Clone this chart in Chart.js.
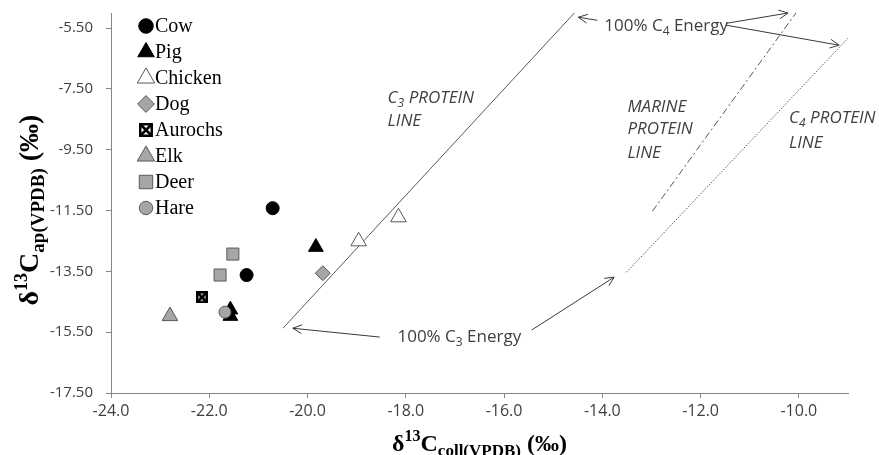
<!DOCTYPE html>
<html lang="en">
<head>
<meta charset="UTF-8">
<title>Collagen vs apatite carbon isotopes</title>
<script src="https://cdn.jsdelivr.net/npm/chart.js@4.4.0/dist/chart.umd.min.js"></script>
<style>
  html, body { margin: 0; padding: 0; background: #fff; }
  #wrap { width: 879px; height: 455px; }
</style>
</head>
<body>
<div id="wrap"><canvas id="isoChart" width="879" height="455"></canvas></div>
<script>
// tick labels
const xTicks = [-24, -22, -20, -18, -16, -14, -12, -10];
const yTicks = [-17.5, -15.5, -13.5, -11.5, -9.5, -7.5, -5.5];

// samples: [d13C collagen, d13C apatite]
const cow = [[-20.71, -11.42], [-21.24, -13.62]];
const pig = [[-19.83, -12.70], [-21.57, -14.76], [-21.57, -14.97]];
const chicken = [[-18.96, -12.51], [-18.15, -11.72]];
const dog = [[-19.69, -13.56]];
const aurochs = [[-22.15, -14.35]];
const elk = [[-22.80, -14.97]];
const deer = [[-21.52, -12.93], [-21.78, -13.62]];
const hare = [[-21.68, -14.84]];

// reference lines, end points
const c3Line = [[-20.50, -15.37], [-14.57, -5.0]];
const marineLine = [[-12.98, -11.52], [-10.06, -5.0]];
const c4Line = [[-13.51, -13.53], [-9.0, -5.83]];

const GREY = '#a6a6a6';
const EDGE = '#595959';
const TXT = '#404040';

function pts(arr) {
    return arr.map(p => ({ x: p[0], y: p[1] }));
}

// box with a cross, for aurochs
function makeAurochs(size) {
    const c = document.createElement('canvas');
    c.width = size; c.height = size;
    const g = c.getContext('2d');
    g.fillStyle = '#fff';
    g.fillRect(0, 0, size, size);
    g.strokeStyle = '#000';
    g.lineWidth = 2.6;
    g.strokeRect(1.2, 1.2, size - 2.4, size - 2.4);
    g.beginPath();
    g.moveTo(1, 1); g.lineTo(size - 1, size - 1);
    g.moveTo(size - 1, 1); g.lineTo(1, size - 1);
    g.stroke();
    return c;
}
const aurochsMark = makeAurochs(12);
const aurochsLegend = makeAurochs(14);

const animals = [
    { label: 'Cow', data: cow, style: 'circle', r: 6.5, fill: '#000', line: '#000' },
    { label: 'Pig', data: pig, style: 'triangle', r: 8.5, fill: '#000', line: '#000' },
    { label: 'Chicken', data: chicken, style: 'triangle', r: 9, fill: '#fff', line: EDGE },
    { label: 'Dog', data: dog, style: 'rectRot', r: 7.5, fill: GREY, line: EDGE },
    { label: 'Aurochs', data: aurochs, style: aurochsMark, legendStyle: aurochsLegend, r: 6, fill: '#000', line: '#000' },
    { label: 'Elk', data: elk, style: 'triangle', r: 9, fill: GREY, line: EDGE },
    { label: 'Deer', data: deer, style: 'rect', r: 8.5, fill: GREY, line: EDGE },
    { label: 'Hare', data: hare, style: 'circle', r: 6, fill: GREY, line: EDGE }
];

const datasets = animals.map((a, i) => ({
    label: a.label,
    data: pts(a.data),
    pointStyle: a.style,
    pointRadius: a.r,
    backgroundColor: a.fill,
    borderColor: a.line,
    borderWidth: 1,
    order: animals.length - i
}));

function refLine(label, data, dash) {
    return {
        label: label,
        data: pts(data),
        showLine: true,
        borderColor: EDGE,
        borderWidth: 1,
        borderDash: dash,
        pointRadius: 0,
        order: 20
    };
}
datasets.push(refLine('C3 protein', c3Line, []));
datasets.push(refLine('Marine protein', marineLine, [7, 3, 2, 3]));
datasets.push(refLine('C4 protein', c4Line, [1.5, 1.5]));

// text with sub/superscripts; parts = [text, font, dy]
function drawRich(ctx, parts, x, y, align) {
    let total = 0;
    parts.forEach(p => { ctx.font = p[1]; total += ctx.measureText(p[0]).width; });
    let cx = align === 'center' ? x - total / 2 : x;
    parts.forEach(p => {
        ctx.font = p[1];
        ctx.fillText(p[0], cx, y + (p[2] || 0));
        cx += ctx.measureText(p[0]).width;
    });
}

function arrow(ctx, x1, y1, x2, y2) {
    const ang = Math.atan2(y2 - y1, x2 - x1);
    const len = 10, spread = 0.45;
    ctx.beginPath();
    ctx.moveTo(x1, y1);
    ctx.lineTo(x2, y2);
    ctx.moveTo(x2 - len * Math.cos(ang - spread), y2 - len * Math.sin(ang - spread));
    ctx.lineTo(x2, y2);
    ctx.lineTo(x2 - len * Math.cos(ang + spread), y2 - len * Math.sin(ang + spread));
    ctx.stroke();
}

const SANS = "'Open Sans', sans-serif";
const SERIF = "'Liberation Serif', 'Times New Roman', serif";
const it17 = 'italic 17px ' + SANS;
const it12 = 'italic 12px ' + SANS;
const n17 = '17px ' + SANS;
const n12 = '12px ' + SANS;

// annotation texts, anchored in data units (left edge, cap middle)
const notes = [
    { x: -18.37, y: -7.77, parts: [['C', it17], ['3', it12, 4], [' PROTEIN', it17]] },
    { x: -18.37, y: -8.53, parts: [['LINE', it17]] },
    { x: -13.49, y: -8.07, parts: [['MARINE', it17]] },
    { x: -13.49, y: -8.79, parts: [['PROTEIN', it17]] },
    { x: -13.49, y: -9.58, parts: [['LINE', it17]] },
    { x: -10.20, y: -8.43, parts: [['C', it17], ['4', it12, 4], [' PROTEIN', it17]] },
    { x: -10.20, y: -9.25, parts: [['LINE', it17]] },
    { x: -13.96, y: -5.40, parts: [['100% C', n17], ['4', n12, 4], [' Energy', n17]] },
    { x: -18.17, y: -15.63, parts: [['100% C', n17], ['3', n12, 4], [' Energy', n17]] }
];

// arrows: [fromX, fromY, toX, toY] in data units
const arrows = [
    [-14.10, -5.24, -14.49, -5.14],
    [-11.48, -5.34, -10.22, -5.00],
    [-11.48, -5.40, -9.18, -6.06],
    [-18.53, -15.66, -20.30, -15.37],
    [-15.44, -15.43, -13.76, -13.69]
];

const decor = {
    id: 'decor',
    afterDraw(chart) {
        const ctx = chart.ctx;
        const xs = chart.scales.x, ys = chart.scales.y;
        ctx.save();

        // arrows
        ctx.strokeStyle = '#3a3a3a';
        ctx.lineWidth = 1;
        arrows.forEach(a => arrow(ctx,
            xs.getPixelForValue(a[0]), ys.getPixelForValue(a[1]),
            xs.getPixelForValue(a[2]), ys.getPixelForValue(a[3])));

        // notes
        ctx.fillStyle = TXT;
        ctx.textBaseline = 'alphabetic';
        notes.forEach(n => drawRich(ctx, n.parts,
            xs.getPixelForValue(n.x), ys.getPixelForValue(n.y) + 6, 'left'));

        // legend
        const lx = chart.chartArea.left + 35, ly = chart.chartArea.top + 13;
        animals.forEach((a, i) => {
            const y = ly + i * 26;
            ctx.fillStyle = a.fill;
            ctx.strokeStyle = a.line;
            ctx.lineWidth = 1;
            Chart.helpers.drawPoint(ctx, {
                pointStyle: a.legendStyle || a.style,
                radius: a.r * 1.12,
                rotation: 0,
                borderWidth: 1
            }, lx, y);
            ctx.fillStyle = '#000';
            ctx.font = '20px ' + SERIF;
            ctx.textBaseline = 'middle';
            ctx.fillText(a.label, lx + 9, y + 1);
        });

        // axis titles
        ctx.fillStyle = '#000';
        ctx.textBaseline = 'alphabetic';
        const b24 = 'bold 24px ' + SERIF, b16 = 'bold 16px ' + SERIF, b17 = 'bold 17px ' + SERIF;
        drawRich(ctx, [['δ', b24], ['13', b16, -10], ['C', b24], ['coll(VPDB)', b17, 5], [' (‰)', b24]],
            (chart.chartArea.left + chart.chartArea.right) / 2, 451, 'center');

        const b28 = 'bold 28px ' + SERIF, b18 = 'bold 18px ' + SERIF, b19 = 'bold 19px ' + SERIF;
        ctx.translate(38, 210);
        ctx.rotate(-Math.PI / 2);
        drawRich(ctx, [['δ', b28], ['13', b18, -11], ['C', b28], ['ap(VPDB)', b19, 6], [' (‰)', b28]], 0, 0, 'center');
        ctx.restore();
    }
};

new Chart(document.getElementById('isoChart'), {
    type: 'scatter',
    data: { datasets: datasets },
    options: {
        responsive: false,
        animation: false,
        layout: { padding: { top: 13, right: 31, left: 0, bottom: 0 } },
        plugins: { legend: { display: false }, tooltip: { enabled: false } },
        scales: {
            x: {
                type: 'linear',
                min: -24,
                max: -9,
                afterBuildTicks: s => { s.ticks = xTicks.map(v => ({ value: v })); },
                afterFit: s => { s.height = 62; s.paddingLeft = 0; s.paddingRight = 0; },
                ticks: {
                    font: { family: 'Open Sans', size: 16 },
                    color: TXT,
                    padding: 4,
                    callback: v => Number(v).toFixed(1)
                },
                grid: { drawOnChartArea: false, tickLength: 5, tickColor: '#868686' },
                border: { color: '#868686', width: 1 }
            },
            y: {
                type: 'linear',
                min: -17.5,
                max: -5.0,
                afterBuildTicks: s => { s.ticks = yTicks.map(v => ({ value: v })); },
                afterFit: s => { s.width = 111; s.paddingTop = 0; s.paddingBottom = 0; },
                ticks: {
                    font: { family: 'Open Sans', size: 15 },
                    color: TXT,
                    padding: 13,
                    callback: v => Number(v).toFixed(2)
                },
                grid: { drawOnChartArea: false, tickLength: 5, tickColor: '#868686' },
                border: { color: '#868686', width: 1 }
            }
        }
    },
    plugins: [decor]
});
</script>
</body>
</html>
